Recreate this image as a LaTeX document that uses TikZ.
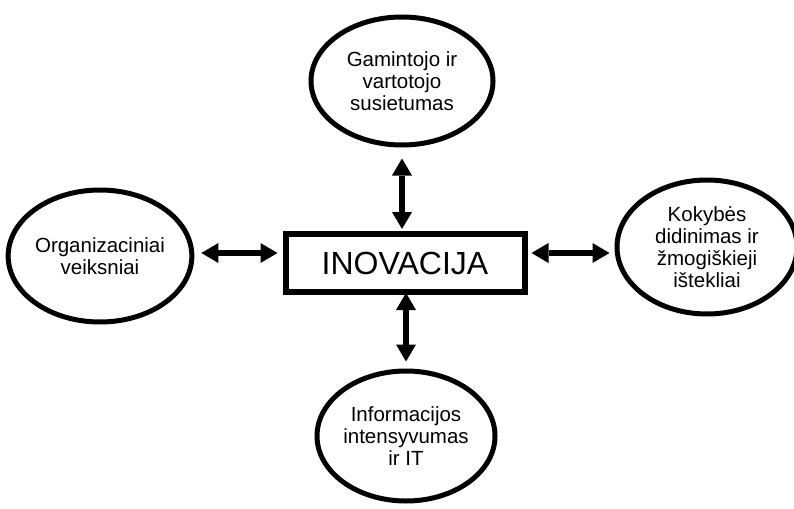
\documentclass[tikz,border=0pt]{standalone}
\usepackage{fontspec}
\setmainfont{Liberation Sans}
\usetikzlibrary{arrows.meta,shapes.geometric}
\tikzset{
  oval/.style={ellipse, draw, line width=5pt, inner sep=0pt, align=center,
    font=\fontsize{20.5}{22}\selectfont},
  mainbox/.style={rectangle, draw, line width=6pt, inner sep=0pt, outer sep=0pt,
    minimum width=239pt, minimum height=58pt, font=\fontsize{32}{34}\selectfont},
  dbl/.style={line width=5.5pt,
    {Triangle[length=17pt,width=20pt,line width=0pt]}-{Triangle[length=17pt,width=20pt,line width=0pt]}}
}
\begin{document}
\begin{tikzpicture}[x=1pt,y=-1pt]
\useasboundingbox (0,0) rectangle (794,508);
\node[mainbox] (box) at (405,263) {INOVACIJA};
\node[oval, minimum width=182pt, minimum height=128pt] (top) at (402,81)
  {Gamintojo ir\\vartotojo\\susietumas};
\node[oval, minimum width=180pt, minimum height=132pt] (left) at (100,256)
  {Organizaciniai\\veiksniai};
\node[oval, minimum width=180pt, minimum height=134pt] (right) at (707,247)
  {Kokybės\\didinimas ir\\žmogiškieji\\ištekliai};
\node[oval, minimum width=178pt, minimum height=130pt] (bottom) at (406,436)
  {Informacijos\\intensyvumas\\ir IT};
\draw[dbl, shorten <=5pt, shorten >=11pt] (box.north -| top.south) -- (top.south);
\draw[dbl, shorten <=1pt, shorten >=7pt] (box.south -| bottom.north) -- (bottom.north);
\draw[dbl, shorten <=8pt, shorten >=7pt] ([yshift=10pt]box.west) -- ([yshift=10pt]box.west -| left.east);
\draw[dbl, shorten <=7pt, shorten >=5pt] ([yshift=10pt]box.east) -- ([yshift=10pt]box.east -| right.west);
\end{tikzpicture}
\end{document}
